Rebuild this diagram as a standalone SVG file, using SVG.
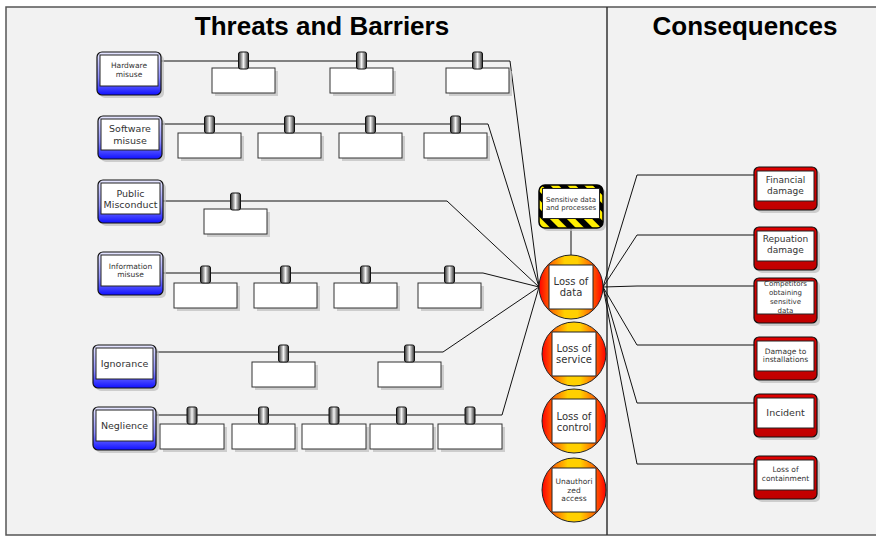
<svg xmlns="http://www.w3.org/2000/svg" width="876" height="536" viewBox="0 0 876 536">
  <style>
    .title { font-family: "Liberation Sans", Arial, sans-serif; font-weight: bold; font-size: 26px; fill: #000; text-anchor: middle; }
    .lbl { font-family: "DejaVu Sans", Verdana, sans-serif; fill: #333; text-anchor: middle; }
    .s7 { font-size: 7px; }
    .s75 { font-size: 7.5px; }
    .s9 { font-size: 9px; }
    .s95 { font-size: 9.5px; }
    .s10 { font-size: 10px; }
    .conn { fill: none; stroke: #111; stroke-width: 1; }
    .shadow { fill: #bdbdbd; opacity: 0.7; }
    .threat { fill: url(#blueGrad); stroke: #111; stroke-width: 1.2; }
    .cons { fill: url(#redGrad); stroke: #111; stroke-width: 1.2; }
    .inner { fill: #fff; stroke: #222; stroke-width: 1; }
    .barrier { fill: #fff; stroke: #333; stroke-width: 1; }
    .tab { fill: url(#tabGrad); stroke: #111; stroke-width: 1; }
    .event { fill: url(#circGrad); stroke: #222; stroke-width: 1; }
  </style>
  <defs>
    <linearGradient id="blueGrad" x1="0" y1="0" x2="0" y2="1">
      <stop offset="0" stop-color="#e8e8ff"/>
      <stop offset="0.6" stop-color="#8c8cff"/>
      <stop offset="1" stop-color="#1010ff"/>
    </linearGradient>
    <linearGradient id="redGrad" x1="0" y1="0" x2="0" y2="1">
      <stop offset="0" stop-color="#e00000"/>
      <stop offset="1" stop-color="#c00000"/>
    </linearGradient>
    <linearGradient id="circGrad" x1="0" y1="0" x2="1" y2="0">
      <stop offset="0" stop-color="#ff0000"/>
      <stop offset="0.2" stop-color="#ff7000"/>
      <stop offset="0.4" stop-color="#ffd000"/>
      <stop offset="0.6" stop-color="#ffd000"/>
      <stop offset="0.8" stop-color="#ff7000"/>
      <stop offset="1" stop-color="#ff0000"/>
    </linearGradient>
    <linearGradient id="tabGrad" x1="0" y1="0" x2="1" y2="0">
      <stop offset="0" stop-color="#2a2a2a"/>
      <stop offset="0.5" stop-color="#f4f4f4"/>
      <stop offset="1" stop-color="#2a2a2a"/>
    </linearGradient>
    <pattern id="hazard" width="12" height="12" patternUnits="userSpaceOnUse" patternTransform="rotate(-45)">
      <rect width="12" height="12" fill="#ffee00"/>
      <rect width="6" height="12" fill="#000"/>
    </pattern>
  </defs>

  <!-- worksheet frame and section divider -->
  <rect x="6" y="7" width="876" height="528" fill="#f2f2f2" stroke="#555" stroke-width="1.5"/>
  <line x1="607" y1="7" x2="607" y2="535" stroke="#333" stroke-width="1.5"/>
  <text class="title" x="322" y="35">Threats and Barriers</text>
  <text class="title" x="745" y="35">Consequences</text>

  <!-- connectors -->
  <g id="connectors">
    <path class="conn" d="M161,61 H510 L539,287"/>
    <path class="conn" d="M162,124 H488 L539,287"/>
    <path class="conn" d="M163,201 H447 L539,287"/>
    <path class="conn" d="M163,273 H483 L539,287"/>
    <path class="conn" d="M156,352 H443 L539,287"/>
    <path class="conn" d="M156,415 H502 L539,287"/>
    <path class="conn" d="M571,228 V255"/>
    <path class="conn" d="M603,287 L637,175 H754"/>
    <path class="conn" d="M603,287 L637,235 H754"/>
    <path class="conn" d="M603,287 L637,286 H754"/>
    <path class="conn" d="M603,287 L637,345 H754"/>
    <path class="conn" d="M603,287 L637,403 H754"/>
    <path class="conn" d="M603,287 L637,464 H754"/>
  </g>

  <!-- threats -->
  <g id="threat-hardware">
    <rect class="shadow" x="100" y="55" width="64" height="43" rx="5"/>
    <rect class="threat" x="97" y="52" width="64" height="43" rx="5"/>
    <rect class="inner" x="100" y="55" width="58" height="31"/>
    <text class="lbl s75" x="129" y="68">Hardware</text>
    <text class="lbl s75" x="129" y="77">misuse</text>
  </g>
  <g id="threat-software">
    <rect class="shadow" x="101" y="119" width="64" height="43" rx="5"/>
    <rect class="threat" x="98" y="116" width="64" height="43" rx="5"/>
    <rect class="inner" x="101" y="119" width="58" height="31"/>
    <text class="lbl s95" x="130" y="131.5">Software</text>
    <text class="lbl s95" x="130" y="143.5">misuse</text>
  </g>
  <g id="threat-public">
    <rect class="shadow" x="101" y="183" width="65" height="43" rx="5"/>
    <rect class="threat" x="98" y="180" width="65" height="43" rx="5"/>
    <rect class="inner" x="101" y="183" width="59" height="31"/>
    <text class="lbl s95" x="130.5" y="196.5">Public</text>
    <text class="lbl s95" x="130.5" y="207.5">Misconduct</text>
  </g>
  <g id="threat-information">
    <rect class="shadow" x="101" y="255" width="65" height="43" rx="5"/>
    <rect class="threat" x="98" y="252" width="65" height="43" rx="5"/>
    <rect class="inner" x="101" y="255" width="59" height="31"/>
    <text class="lbl s75" x="130.5" y="268.5">Information</text>
    <text class="lbl s75" x="130.5" y="277">misuse</text>
  </g>
  <g id="threat-ignorance">
    <rect class="shadow" x="96" y="348" width="63" height="43" rx="5"/>
    <rect class="threat" x="93" y="345" width="63" height="43" rx="5"/>
    <rect class="inner" x="96" y="348" width="57" height="31"/>
    <text class="lbl s95" x="124.5" y="366.5">Ignorance</text>
  </g>
  <g id="threat-neglience">
    <rect class="shadow" x="96" y="410" width="63" height="43" rx="5"/>
    <rect class="threat" x="93" y="407" width="63" height="43" rx="5"/>
    <rect class="inner" x="96" y="410" width="57" height="31"/>
    <text class="lbl s95" x="124.5" y="428.5">Neglience</text>
  </g>

  <!-- barriers -->
  <g id="barriers-hardware">
    <rect class="shadow" x="215" y="71" width="63" height="25"/><rect class="barrier" x="212" y="68" width="63" height="25"/><rect class="tab" x="238.5" y="52" width="10" height="17" rx="2"/>
    <rect class="shadow" x="333" y="71" width="63" height="25"/><rect class="barrier" x="330" y="68" width="63" height="25"/><rect class="tab" x="356.5" y="52" width="10" height="17" rx="2"/>
    <rect class="shadow" x="449" y="71" width="63" height="25"/><rect class="barrier" x="446" y="68" width="63" height="25"/><rect class="tab" x="472.5" y="52" width="10" height="17" rx="2"/>
  </g>
  <g id="barriers-software">
    <rect class="shadow" x="181" y="136" width="63" height="25"/><rect class="barrier" x="178" y="133" width="63" height="25"/><rect class="tab" x="204.5" y="116" width="10" height="17" rx="2"/>
    <rect class="shadow" x="261" y="136" width="63" height="25"/><rect class="barrier" x="258" y="133" width="63" height="25"/><rect class="tab" x="284.5" y="116" width="10" height="17" rx="2"/>
    <rect class="shadow" x="342" y="136" width="63" height="25"/><rect class="barrier" x="339" y="133" width="63" height="25"/><rect class="tab" x="365.5" y="116" width="10" height="17" rx="2"/>
    <rect class="shadow" x="427" y="136" width="63" height="25"/><rect class="barrier" x="424" y="133" width="63" height="25"/><rect class="tab" x="450.5" y="116" width="10" height="17" rx="2"/>
  </g>
  <g id="barriers-public">
    <rect class="shadow" x="207" y="212" width="63" height="25"/><rect class="barrier" x="204" y="209" width="63" height="25"/><rect class="tab" x="230.5" y="193" width="10" height="17" rx="2"/>
  </g>
  <g id="barriers-information">
    <rect class="shadow" x="177" y="286" width="63" height="25"/><rect class="barrier" x="174" y="283" width="63" height="25"/><rect class="tab" x="200.5" y="266" width="10" height="17" rx="2"/>
    <rect class="shadow" x="257" y="286" width="63" height="25"/><rect class="barrier" x="254" y="283" width="63" height="25"/><rect class="tab" x="280.5" y="266" width="10" height="17" rx="2"/>
    <rect class="shadow" x="337" y="286" width="63" height="25"/><rect class="barrier" x="334" y="283" width="63" height="25"/><rect class="tab" x="360.5" y="266" width="10" height="17" rx="2"/>
    <rect class="shadow" x="421" y="286" width="63" height="25"/><rect class="barrier" x="418" y="283" width="63" height="25"/><rect class="tab" x="444.5" y="266" width="10" height="17" rx="2"/>
  </g>
  <g id="barriers-ignorance">
    <rect class="shadow" x="255" y="365" width="63" height="25"/><rect class="barrier" x="252" y="362" width="63" height="25"/><rect class="tab" x="278.5" y="345" width="10" height="17" rx="2"/>
    <rect class="shadow" x="381" y="365" width="63" height="25"/><rect class="barrier" x="378" y="362" width="63" height="25"/><rect class="tab" x="404.5" y="345" width="10" height="17" rx="2"/>
  </g>
  <g id="barriers-neglience">
    <rect class="shadow" x="163" y="427" width="64" height="25"/><rect class="barrier" x="160" y="424" width="64" height="25"/><rect class="tab" x="187" y="407" width="10" height="17" rx="2"/>
    <rect class="shadow" x="235" y="427" width="63" height="25"/><rect class="barrier" x="232" y="424" width="63" height="25"/><rect class="tab" x="258.5" y="407" width="10" height="17" rx="2"/>
    <rect class="shadow" x="305" y="427" width="64" height="25"/><rect class="barrier" x="302" y="424" width="64" height="25"/><rect class="tab" x="329" y="407" width="10" height="17" rx="2"/>
    <rect class="shadow" x="373" y="427" width="63" height="25"/><rect class="barrier" x="370" y="424" width="63" height="25"/><rect class="tab" x="396.5" y="407" width="10" height="17" rx="2"/>
    <rect class="shadow" x="441" y="427" width="64" height="25"/><rect class="barrier" x="438" y="424" width="64" height="25"/><rect class="tab" x="465" y="407" width="10" height="17" rx="2"/>
  </g>

  <!-- hazard -->
  <g id="hazard-sensitive">
    <rect class="shadow" x="542" y="188" width="64" height="43" rx="6"/>
    <rect x="539" y="185" width="64" height="43" rx="6" fill="url(#hazard)" stroke="#000" stroke-width="1.5"/>
    <rect class="inner" x="542.5" y="188.5" width="57" height="30"/>
    <text class="lbl s7" x="571" y="201.5">Sensitive data</text>
    <text class="lbl s7" x="571" y="209.5">and processes</text>
  </g>

  <!-- top events -->
  <g id="event-loss-of-data">
    <circle class="event" cx="571" cy="287" r="32"/>
    <rect class="inner" x="549" y="265" width="44" height="44"/>
    <text class="lbl s10" x="571" y="284.5">Loss of</text>
    <text class="lbl s10" x="571" y="295.5">data</text>
  </g>
  <g id="event-loss-of-service">
    <circle class="event" cx="574" cy="354" r="32"/>
    <rect class="inner" x="552" y="332" width="44" height="44"/>
    <text class="lbl s10" x="574" y="351.5">Loss of</text>
    <text class="lbl s10" x="574" y="362.5">service</text>
  </g>
  <g id="event-loss-of-control">
    <circle class="event" cx="574" cy="421" r="32"/>
    <rect class="inner" x="552" y="399" width="44" height="44"/>
    <text class="lbl s10" x="574" y="419.5">Loss of</text>
    <text class="lbl s10" x="574" y="430.5">control</text>
  </g>
  <g id="event-unauthorized-access">
    <circle class="event" cx="574" cy="490" r="32"/>
    <rect class="inner" x="552" y="468" width="44" height="44"/>
    <text class="lbl s75" x="574" y="483.5">Unauthori</text>
    <text class="lbl s75" x="574" y="492.5">zed</text>
    <text class="lbl s75" x="574" y="500.5">access</text>
  </g>

  <!-- consequences -->
  <g id="cons-financial">
    <rect class="shadow" x="757" y="170" width="63" height="43" rx="5"/>
    <rect class="cons" x="754" y="167" width="63" height="43" rx="5"/>
    <rect class="inner" x="757" y="171" width="57" height="30"/>
    <text class="lbl s9" x="785.5" y="183">Financial</text>
    <text class="lbl s9" x="785.5" y="194">damage</text>
  </g>
  <g id="cons-reputation">
    <rect class="shadow" x="757" y="230" width="63" height="43" rx="5"/>
    <rect class="cons" x="754" y="227" width="63" height="43" rx="5"/>
    <rect class="inner" x="757" y="231" width="57" height="30"/>
    <text class="lbl s9" x="785.5" y="242">Repuation</text>
    <text class="lbl s9" x="785.5" y="253">damage</text>
  </g>
  <g id="cons-competitors">
    <rect class="shadow" x="757" y="281" width="63" height="45" rx="5"/>
    <rect class="cons" x="754" y="278" width="63" height="45" rx="5"/>
    <rect class="inner" x="757" y="281" width="57" height="33"/>
    <text class="lbl s7" x="785.5" y="285.5">Competitors</text>
    <text class="lbl s7" x="785.5" y="294.5">obtaining</text>
    <text class="lbl s7" x="785.5" y="303.5">sensitive</text>
    <text class="lbl s7" x="785.5" y="312.5">data</text>
  </g>
  <g id="cons-installations">
    <rect class="shadow" x="757" y="340" width="63" height="43" rx="5"/>
    <rect class="cons" x="754" y="337" width="63" height="43" rx="5"/>
    <rect class="inner" x="757" y="341" width="57" height="30"/>
    <text class="lbl s75" x="785.5" y="353.5">Damage to</text>
    <text class="lbl s75" x="785.5" y="362">installations</text>
  </g>
  <g id="cons-incident">
    <rect class="shadow" x="757" y="397" width="63" height="43" rx="5"/>
    <rect class="cons" x="754" y="394" width="63" height="43" rx="5"/>
    <rect class="inner" x="757" y="398" width="57" height="30"/>
    <text class="lbl s95" x="785.5" y="415.5">Incident</text>
  </g>
  <g id="cons-containment">
    <rect class="shadow" x="757" y="459" width="63" height="43" rx="5"/>
    <rect class="cons" x="754" y="456" width="63" height="43" rx="5"/>
    <rect class="inner" x="757" y="460" width="57" height="30"/>
    <text class="lbl s75" x="785.5" y="471.5">Loss of</text>
    <text class="lbl s75" x="785.5" y="480.5">containment</text>
  </g>
</svg>
